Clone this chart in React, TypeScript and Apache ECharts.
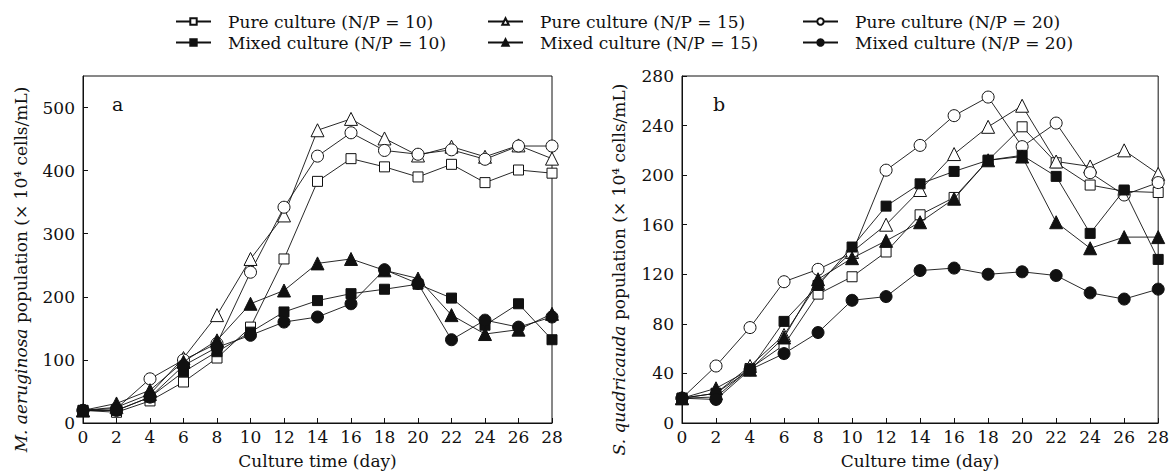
import React, { useEffect, useRef } from "react";
import * as echarts from "echarts";

const days = [0, 2, 4, 6, 8, 10, 12, 14, 16, 18, 20, 22, 24, 26, 28];
const leftTicks = [0, 100, 200, 300, 400, 500];
const rightTicks = [0, 40, 80, 120, 160, 200, 240, 280];

const seriesNames = [
  "Pure culture (N/P = 10)",
  "Pure culture (N/P = 15)",
  "Pure culture (N/P = 20)",
  "Mixed culture (N/P = 10)",
  "Mixed culture (N/P = 15)",
  "Mixed culture (N/P = 20)",
];

// Panel a: M. aeruginosa
const aPure10 = [20, 17, 35, 65, 103, 152, 260, 383, 419, 406, 390, 410, 381, 401, 396];
const aPure15 = [20, 25, 46, 103, 171, 260, 329, 464, 482, 451, 424, 438, 422, 440, 419];
const aPure20 = [20, 23, 70, 100, 126, 239, 342, 423, 460, 432, 426, 433, 418, 439, 439];
const aMixed10 = [20, 20, 41, 81, 113, 144, 176, 194, 205, 212, 220, 198, 155, 189, 132];
const aMixed15 = [20, 31, 52, 97, 131, 189, 210, 253, 260, 242, 229, 171, 141, 148, 173];
const aMixed20 = [20, 20, 41, 91, 120, 139, 160, 168, 189, 243, 221, 132, 163, 152, 168];

// Panel b: S. quadricauda
const bPure10 = [20, 21, 44, 63, 104, 118, 138, 168, 182, 212, 239, 210, 192, 187, 186];
const bPure15 = [20, 24, 46, 71, 113, 138, 160, 188, 217, 239, 256, 211, 207, 220, 201];
const bPure20 = [20, 46, 77, 114, 124, 137, 204, 224, 248, 263, 223, 242, 202, 184, 194];
const bMixed10 = [20, 24, 43, 82, 111, 142, 175, 193, 203, 212, 216, 199, 153, 188, 132];
const bMixed15 = [20, 28, 43, 69, 116, 133, 147, 162, 181, 212, 215, 162, 141, 150, 150];
const bMixed20 = [20, 19, 43, 56, 73, 99, 102, 123, 125, 120, 122, 119, 105, 100, 108];

const FONT = "DejaVu Serif";

const symbols = ["rect", "triangle", "circle", "rect", "triangle", "circle"];
const symbolSizes = [10, 13, 12, 10, 13, 12];
const filled = [false, false, false, true, true, true];

export default function App() {
  const ref = useRef<HTMLDivElement>(null);
  useEffect(() => {
    if (!ref.current) return;
    const chart = echarts.init(ref.current, undefined, { renderer: "svg" });

    const panels = [
      [aPure10, aPure15, aPure20, aMixed10, aMixed15, aMixed20],
      [bPure10, bPure15, bPure20, bMixed10, bMixed15, bMixed20],
    ];

    const series: any[] = [];
    panels.forEach((panel, pi) => {
      panel.forEach((vals, si) => {
        series.push({
          type: "line",
          name: seriesNames[si],
          xAxisIndex: pi,
          yAxisIndex: pi,
          data: days.map((d, i) => [d, vals[i]]),
          symbol: symbols[si],
          symbolSize: symbolSizes[si],
          showAllSymbol: true,
          lineStyle: { color: "#111", width: 0.9 },
          itemStyle: {
            color: filled[si] ? "#111" : "#fff",
            borderColor: "#111",
            borderWidth: 1,
          },
          z: filled[si] ? 3 : 2,
        });
      });
    });

    const axisLabel = { color: "#111", fontFamily: FONT, fontSize: 17 };
    const xAxisBase = (gi: number) => ({
      type: "value",
      gridIndex: gi,
      min: 0,
      max: 28,
      interval: 2,
      name: "Culture time (day)",
      nameLocation: "middle",
      nameGap: 29,
      nameTextStyle: { color: "#111", fontFamily: FONT, fontSize: 17 },
      axisLine: { lineStyle: { color: "#111", width: 1 } },
      axisTick: { inside: true, length: 5, lineStyle: { color: "#111" } },
      axisLabel: { ...axisLabel, margin: 5 },
      splitLine: { show: false },
    });

    const yName = (species: string) => ({
      name: `{i|${species}} population (× 10⁴ cells/mL)`,
      nameLocation: "middle",
      nameRotate: 90,
      nameTextStyle: {
        color: "#111",
        fontFamily: FONT,
        fontSize: 17,
        padding: [0, 40, 0, 0],
        rich: { i: { fontStyle: "italic", fontFamily: FONT, fontSize: 17, color: "#111" } },
      },
    });

    const legendCols = [175, 487, 802];
    const legendRows = [12, 33];
    const legends = seriesNames.map((n, i) => ({
      data: [n],
      left: legendCols[i % 3],
      top: legendRows[Math.floor(i / 3)],
      itemWidth: 35,
      itemHeight: 8,
      padding: 0,
      selectedMode: false,
      textStyle: { color: "#111", fontFamily: FONT, fontSize: 17, lineHeight: 19, padding: [0, 0, 0, 12] },
    }));

    chart.setOption({
      animation: false,
      backgroundColor: "#fff",
      textStyle: { fontFamily: FONT },
      legend: legends,
      grid: [
        { left: 83, top: 76, width: 469, height: 347, show: true, borderColor: "#111", borderWidth: 1, backgroundColor: "transparent" },
        { left: 682, top: 76, width: 479, height: 347, show: true, borderColor: "#111", borderWidth: 1, backgroundColor: "transparent" },
      ],
      xAxis: [xAxisBase(0), xAxisBase(1)],
      yAxis: [
        {
          type: "value",
          gridIndex: 0,
          min: leftTicks[0],
          max: 550,
          interval: 100,
          ...yName("M. aeruginosa"),
          nameGap: 54,
          axisLine: { show: true, lineStyle: { color: "#111", width: 1 } },
          axisTick: { show: true, inside: true, length: 5, lineStyle: { color: "#111" } },
          axisLabel: { ...axisLabel, margin: 8, showMaxLabel: false },
          splitLine: { show: false },
        },
        {
          type: "value",
          gridIndex: 1,
          min: rightTicks[0],
          max: rightTicks[rightTicks.length - 1],
          interval: 40,
          ...yName("S. quadricauda"),
          nameGap: 55,
          axisLine: { show: true, lineStyle: { color: "#111", width: 1 } },
          axisTick: { show: true, inside: true, length: 5, lineStyle: { color: "#111" } },
          axisLabel: { ...axisLabel, margin: 8 },
          splitLine: { show: false },
        },
      ],
      graphic: [
        { type: "text", left: 112, top: 94, style: { text: "a", font: "19px " + FONT, fill: "#111" } },
        { type: "text", left: 713, top: 94, style: { text: "b", font: "19px " + FONT, fill: "#111" } },
      ],
      series,
    });
    return () => chart.dispose();
  }, []);

  return (
    <div
      ref={ref}
      style={{ position: "fixed", left: 0, top: 0, width: 1172, height: 474 }}
    />
  );
}
